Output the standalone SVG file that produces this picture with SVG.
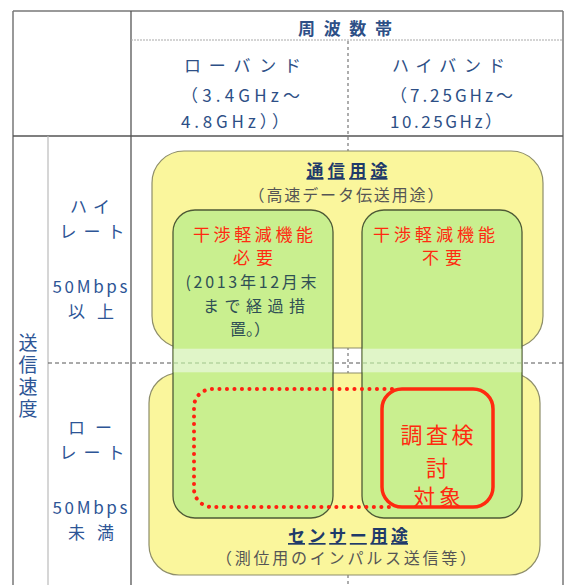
<svg xmlns="http://www.w3.org/2000/svg" width="567" height="585" viewBox="0 0 567 585">
<style>
text{font-family:"Noto Sans CJK JP","Noto Sans",sans-serif;}
.hd{fill:#2d4f86;font-size:17px;}
.lb{fill:#2d5596;font-size:17px;text-anchor:middle;}
.ttl{fill:#1f3a6a;font-size:17px;font-weight:bold;text-anchor:middle;text-decoration:underline;}
.sub{fill:#555555;font-size:16px;text-anchor:middle;}
.red{fill:#ff2a10;font-size:17px;text-anchor:middle;}
.dk{fill:#2f4f55;font-size:16px;text-anchor:middle;}
.big{fill:#ff2a10;font-size:22px;text-anchor:middle;}
.yel{fill:#faf69c;stroke:#8e8e6a;stroke-width:1.2;}
.grn{fill:#c9ef8f;stroke:#4e5a36;stroke-width:1.3;}
.band{fill:#e0f5c8;}
</style>
<rect x="0" y="0" width="567" height="585" fill="#ffffff"/>
<g id="table" fill="none">
<line x1="13" y1="11" x2="563" y2="11" stroke="#777" stroke-width="1.5"/>
<line x1="13" y1="11" x2="13" y2="585" stroke="#777" stroke-width="1.5"/>
<line x1="563" y1="11" x2="563" y2="585" stroke="#777" stroke-width="1.5"/>
<line x1="131" y1="11" x2="131" y2="585" stroke="#555" stroke-width="1.3"/>
<line x1="131" y1="40" x2="563" y2="40" stroke="#aaa" stroke-width="1.2" stroke-dasharray="2 1"/>
<line x1="13" y1="136" x2="563" y2="136" stroke="#555" stroke-width="1.3"/>
<line x1="48" y1="136" x2="48" y2="585" stroke="#bbb" stroke-width="1.2"/>
<line x1="348" y1="41" x2="348" y2="585" stroke="#777" stroke-width="1.2" stroke-dasharray="3 3"/>
<line x1="48" y1="363" x2="563" y2="363" stroke="#555" stroke-width="1" stroke-dasharray="4 3"/>
</g>
<g id="header">
<text class="hd" x="345" y="35" text-anchor="middle" font-size="19" font-weight="bold" textLength="94" lengthAdjust="spacing">周波数帯</text>
<text class="hd" x="184" y="72" textLength="117" lengthAdjust="spacing">ローバンド</text>
<text class="hd" x="181" y="102" textLength="119" lengthAdjust="spacing">（3.4GHz～</text>
<text class="hd" x="181" y="128" textLength="108" lengthAdjust="spacing">4.8GHz））</text>
<text class="hd" x="392" y="72" textLength="113" lengthAdjust="spacing">ハイバンド</text>
<text class="hd" x="390" y="102" textLength="123" lengthAdjust="spacing">（7.25GHz～</text>
<text class="hd" x="390" y="128" textLength="112" lengthAdjust="spacing">10.25GHz）</text>
</g>
<g id="rowlabels">
<text class="lb" x="90" y="213" textLength="40" lengthAdjust="spacing">ハイ</text>
<text class="lb" x="92" y="238" textLength="65" lengthAdjust="spacing">レート</text>
<text class="lb" x="90" y="293" font-family="Liberation Sans" textLength="75" lengthAdjust="spacing">50Mbps</text>
<text class="lb" x="91" y="318" textLength="46" lengthAdjust="spacing">以上</text>
<text class="lb" x="90" y="434" textLength="44" lengthAdjust="spacing">ロー</text>
<text class="lb" x="92" y="459" textLength="65" lengthAdjust="spacing">レート</text>
<text class="lb" x="90" y="514" font-family="Liberation Sans" textLength="75" lengthAdjust="spacing">50Mbps</text>
<text class="lb" x="91" y="539" textLength="46" lengthAdjust="spacing">未満</text>
<text x="28" y="333" fill="#2d5596" font-size="19" writing-mode="vertical-rl" letter-spacing="3">送信速度</text>
</g>
<g id="comm">
<rect class="yel" x="152" y="151" width="391" height="197" rx="32"/>
</g>
<g id="sensor">
<rect class="yel" x="149" y="373" width="391" height="202" rx="30"/>
</g>
<g id="need">
<rect class="grn" x="173" y="210" width="160" height="308" rx="22"/>
<rect class="band" x="173.7" y="348.7" width="158.6" height="23.6"/>
<line x1="174" y1="363" x2="332" y2="363" stroke="#9fc48a" stroke-width="1" stroke-dasharray="4 3"/>
<text class="red" x="253" y="241" textLength="120" lengthAdjust="spacing">干渉軽減機能</text>
<text class="red" x="253" y="264" textLength="40" lengthAdjust="spacing">必要</text>
<text class="dk" x="251" y="288" textLength="131" lengthAdjust="spacing">(2013年12月末</text>
<text class="dk" x="254" y="312" textLength="102" lengthAdjust="spacing">まで経過措</text>
<text class="dk" x="250" y="335">置。）</text>
</g>
<g id="noneed">
<rect class="grn" x="362" y="210" width="160" height="308" rx="22"/>
<rect class="band" x="362.7" y="348.7" width="158.6" height="23.6"/>
<line x1="363" y1="363" x2="521" y2="363" stroke="#9fc48a" stroke-width="1" stroke-dasharray="4 3"/>
<text class="red" x="434" y="241" textLength="122" lengthAdjust="spacing">干渉軽減機能</text>
<text class="red" x="442" y="264" textLength="40" lengthAdjust="spacing">不要</text>
</g>
<g id="commtext">
<text class="ttl" x="347" y="177" textLength="81" lengthAdjust="spacing">通信用途</text>
<text class="sub" x="346" y="201" textLength="195" lengthAdjust="spacing">（高速データ伝送用途）</text>
</g>
<g id="sensortext">
<text class="ttl" x="348" y="542" textLength="120" lengthAdjust="spacing">センサー用途</text>
<text class="sub" x="346" y="564" textLength="260" lengthAdjust="spacing">（測位用のインパルス送信等）</text>
</g>
<g id="lowrate-area">
<path d="M 392 389 H 212 A 18 18 0 0 0 194 407 V 489 A 18 18 0 0 0 212 507 H 392" fill="none" stroke="#ff2010" stroke-width="4" stroke-linecap="round" stroke-dasharray="0.1 7.4"/>
</g>
<g id="target">
<rect x="382" y="389" width="111" height="118" rx="20" fill="none" stroke="#ff2a10" stroke-width="3.5"/>
<text class="big" x="437" y="443" textLength="73" lengthAdjust="spacing">調査検</text>
<text class="big" x="437" y="476">討</text>
<text class="big" x="437" y="505" textLength="48" lengthAdjust="spacing">対象</text>
</g>
</svg>
